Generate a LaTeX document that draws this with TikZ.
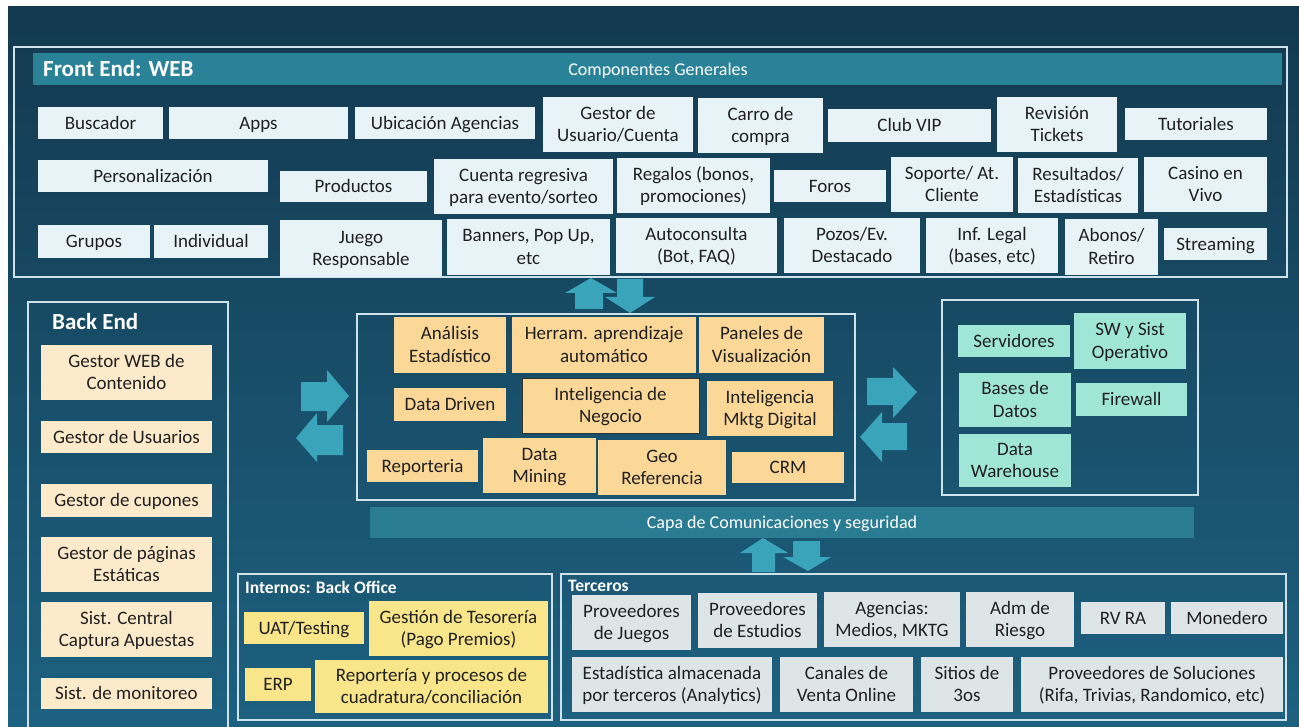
\documentclass[tikz,border=0pt]{standalone}
\usepackage{fontspec}
\setmainfont{Carlito}
\definecolor{bgtop}{RGB}{19,57,79}
\definecolor{bgbot}{RGB}{29,97,128}
\definecolor{hdrC}{RGB}{42,130,152}
\definecolor{barC}{RGB}{42,124,146}
\definecolor{frameC}{RGB}{205,226,233}
\definecolor{feC}{RGB}{232,243,248}
\definecolor{peC}{RGB}{253,234,202}
\definecolor{orC}{RGB}{251,215,152}
\definecolor{mintC}{RGB}{160,230,214}
\definecolor{yelC}{RGB}{249,229,138}
\definecolor{grC}{RGB}{221,229,231}
\definecolor{arrC}{RGB}{58,165,186}
\definecolor{txtC}{RGB}{32,32,32}
\newcommand\bxstrut{\rule[-5.2pt]{0pt}{22.5pt}}
\newcommand\mybox[7]{\node[#6, minimum width={(#4)-(#2)}, minimum height={(#5)-(#3)}] (#1) at ({((#2)+(#4))/2},{((#3)+(#5))/2}) {\bxstrut#7\bxstrut};}
\begin{document}
\begin{tikzpicture}[x=1pt,y=-1pt,
  bxbase/.style={inner sep=0pt, align=center, text=txtC, font=\fontsize{19}{22.5}\selectfont},
  fe/.style={bxbase, fill=feC},
  pe/.style={bxbase, fill=peC},
  orng/.style={bxbase, fill=orC},
  mint/.style={bxbase, fill=mintC},
  yel/.style={bxbase, fill=yelC},
  gr/.style={bxbase, fill=grC},
  frm/.style={draw=frameC, line width=1.3pt},
  ttl/.style={anchor=base west, inner sep=0pt, text=white, font=\bfseries\fontsize{23}{26}\selectfont},
  sttl/.style={anchor=base west, inner sep=0pt, text=white, font=\bfseries\fontsize{17.5}{20}\selectfont},
  lbl/.style={anchor=base, inner sep=0pt, text=white, font=\fontsize{18}{21}\selectfont},
  barrow/.style={fill=arrC}
]
\useasboundingbox (0,0) rectangle (1299,727);
\fill[white] (0,0) rectangle (1299,727);
\shade[top color=bgtop, bottom color=bgbot] (8,7) rectangle (1299,727);

% ---------------- Front End ----------------
\draw[frm] (14,47) rectangle (1287,277);
\fill[hdrC] (33,53) rectangle (1282,85);
\node[ttl] (fetitle) at (43,77) {Front End: WEB};
\node[lbl] (compgen) at (658,76) {Componentes Generales};

\mybox{buscador}{38}{107}{163}{139}{fe}{Buscador}
\mybox{apps}{169}{107}{348}{139}{fe}{Apps}
\mybox{ubicacion}{355}{107}{535}{139}{fe}{Ubicación Agencias}
\mybox{gestorus}{543}{97}{693}{152}{fe}{Gestor de\\Usuario/Cuenta}
\mybox{carro}{698}{98}{823}{153}{fe}{Carro de\\compra}
\mybox{clubvip}{828}{109}{991}{142}{fe}{Club VIP}
\mybox{revision}{997}{97}{1117}{152}{fe}{Revisión\\Tickets}
\mybox{tutoriales}{1125}{108}{1267}{140}{fe}{Tutoriales}

\mybox{personal}{38}{160}{268}{192}{fe}{Personalización}
\mybox{productos}{280}{171}{427}{202}{fe}{Productos}
\mybox{cuenta}{434}{159}{613}{214}{fe}{Cuenta regresiva\\para evento/sorteo}
\mybox{regalos}{617}{158}{770}{213}{fe}{Regalos (bonos,\\promociones)}
\mybox{foros}{774}{170}{886}{202}{fe}{Foros}
\mybox{soporte}{891}{157}{1013}{212}{fe}{Soporte/ At.\\Cliente}
\mybox{resultados}{1018}{158}{1138}{213}{fe}{Resultados/\\Estadísticas}
\mybox{casino}{1144}{157}{1267}{212}{fe}{Casino en\\Vivo}

\mybox{grupos}{38}{225}{150}{258}{fe}{Grupos}
\mybox{individual}{154}{225}{268}{258}{fe}{Individual}
\mybox{juego}{280}{220}{442}{277}{fe}{Juego\\Responsable}
\mybox{banners}{447}{219}{610}{275}{fe}{Banners, Pop Up,\\etc}
\mybox{autocons}{616}{218}{777}{273}{fe}{Autoconsulta\\(Bot, FAQ)}
\mybox{pozos}{784}{218}{920}{273}{fe}{Pozos/Ev.\\Destacado}
\mybox{inflegal}{926}{218}{1058}{273}{fe}{Inf. Legal\\(bases, etc)}
\mybox{abonos}{1065}{219}{1158}{275}{fe}{Abonos/\\Retiro}
\mybox{streaming}{1164}{228}{1267}{260}{fe}{Streaming}

% ---------------- Back End ----------------
\draw[frm] (28,740) -- (28,302) -- (228,302) -- (228,740);
\node[ttl] (betitle) at (52,330) {Back End};
\mybox{gweb}{41}{345}{212}{400}{pe}{Gestor WEB de\\Contenido}
\mybox{gusuarios}{41}{421}{212}{453}{pe}{Gestor de Usuarios}
\mybox{gcupones}{41}{484}{212}{517}{pe}{Gestor de cupones}
\mybox{gpaginas}{41}{537}{212}{592}{pe}{Gestor de páginas\\Estáticas}
\mybox{sistcentral}{41}{602}{212}{657}{pe}{Sist. Central\\Captura Apuestas}
\mybox{monitoreo}{41}{678}{212}{709}{pe}{Sist. de monitoreo}

% ---------------- Center ----------------
\draw[frm] (357,314) rectangle (855,500);
\mybox{analisis}{394}{317}{506}{373}{orng}{Análisis\\Estadístico}
\mybox{herram}{512}{317}{696}{373}{orng}{Herram. aprendizaje\\automático}
\mybox{paneles}{699}{317}{824}{373}{orng}{Paneles de\\Visualización}
\mybox{datadriven}{394}{388}{506}{421}{orng}{Data Driven}
\mybox{intneg}{522}{378}{699}{433}{orng, draw=black!80, line width=0.8pt}{Inteligencia de\\Negocio}
\mybox{intmktg}{707}{381}{833}{436}{orng}{Inteligencia\\Mktg Digital}
\mybox{reporteria}{367}{450}{478}{482}{orng}{Reporteria}
\mybox{datamining}{483}{438}{596}{493}{orng}{Data\\Mining}
\mybox{georef}{598}{440}{726}{495}{orng}{Geo\\Referencia}
\mybox{crm}{732}{452}{844}{483}{orng}{CRM}

% ---------------- Right ----------------
\draw[frm] (942,300) rectangle (1198,495);
\mybox{servidores}{958}{325}{1070}{357}{mint}{Servidores}
\mybox{swsist}{1074}{313}{1186}{369}{mint}{SW y Sist\\Operativo}
\mybox{basesdatos}{959}{373}{1071}{427}{mint}{Bases de\\Datos}
\mybox{firewall}{1076}{383}{1187}{416}{mint}{Firewall}
\mybox{datawh}{959}{434}{1071}{487}{mint}{Data\\Warehouse}

% ---------------- Comm bar ----------------
\fill[barC] (370,507) rectangle (1194,538);
\node[lbl] (capa) at (782,528) {Capa de Comunicaciones y seguridad};

% ---------------- Internos ----------------
\draw[frm] (238,574) rectangle (552,720);
\node[sttl] (inttitle) at (245,593) {Internos: Back Office};
\mybox{uat}{244}{612}{364}{644}{yel}{UAT/Testing}
\mybox{tesoreria}{369}{601}{548}{656}{yel}{Gestión de Tesorería\\(Pago Premios)}
\mybox{erp}{245}{668}{311}{701}{yel}{ERP}
\mybox{reportproc}{315}{660}{548}{713}{yel}{Reportería y procesos de\\cuadratura/conciliación}

% ---------------- Terceros ----------------
\draw[frm] (561,574) rectangle (1286,720);
\node[sttl] (tertitle) at (568,591) {Terceros};
\mybox{provjuegos}{572}{595}{691}{650}{gr}{Proveedores\\de Juegos}
\mybox{provestud}{698}{593}{817}{648}{gr}{Proveedores\\de Estudios}
\mybox{agencias}{824}{592}{960}{647}{gr}{Agencias:\\Medios, MKTG}
\mybox{admriesgo}{966}{592}{1074}{647}{gr}{Adm de\\Riesgo}
\mybox{rvra}{1081}{602}{1165}{634}{gr}{RV RA}
\mybox{monedero}{1171}{602}{1283}{634}{gr}{Monedero}
\mybox{estadist}{572}{657}{772}{712}{gr}{Estadística almacenada\\por terceros (Analytics)}
\mybox{canales}{780}{657}{913}{712}{gr}{Canales de\\Venta Online}
\mybox{sitios}{921}{657}{1013}{712}{gr}{Sitios de\\3os}
\mybox{provsol}{1021}{657}{1283}{712}{gr}{Proveedores de Soluciones\\(Rifa, Trivias, Randomico, etc)}

% ---------------- Block arrows ----------------
% top pair
\fill[barrow] (575,309) -- (575,293) -- (565,293) -- (591,278) -- (617,293) -- (603,293) -- (603,309) -- cycle;
\fill[barrow] (617,279) -- (643,279) -- (643,297) -- (655,297) -- (630,313) -- (605,297) -- (617,297) -- cycle;
% bottom pair
\fill[barrow] (752,572) -- (752,553) -- (740,553) -- (763,538) -- (788,553) -- (775,553) -- (775,572) -- cycle;
\fill[barrow] (793,541) -- (820,541) -- (820,557) -- (831,557) -- (808,571) -- (783,557) -- (793,557) -- cycle;
% left pair
\fill[barrow] (301,382) -- (327,382) -- (327,370) -- (349,396) -- (327,422) -- (327,411) -- (301,411) -- cycle;
\fill[barrow] (343,425) -- (317,425) -- (317,413) -- (296,438) -- (317,462) -- (317,455) -- (343,455) -- cycle;
% right pair
\fill[barrow] (867,378) -- (893,378) -- (893,367) -- (917,392) -- (893,418) -- (893,405) -- (867,405) -- cycle;
\fill[barrow] (907,423) -- (882,423) -- (882,412) -- (860,437) -- (882,462) -- (882,450) -- (907,450) -- cycle;
\end{tikzpicture}
\end{document}
